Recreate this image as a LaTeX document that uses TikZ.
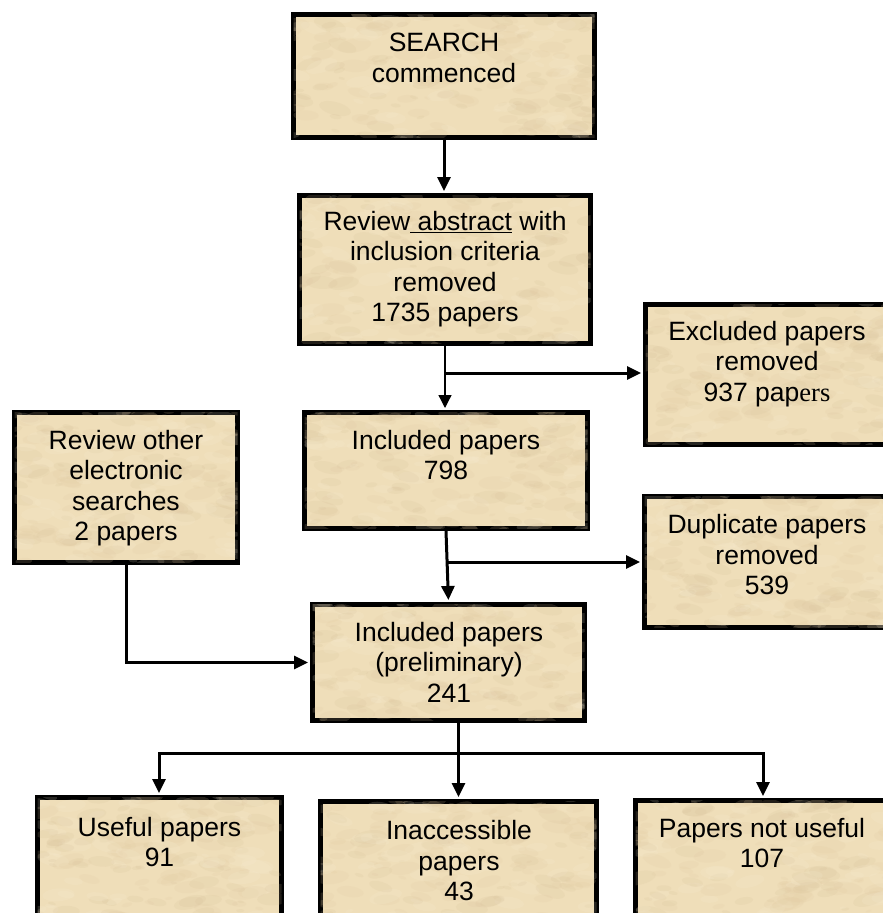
\documentclass[tikz,border=0pt]{standalone}
\usepackage{fontspec}
\setmainfont{Liberation Sans}
\newfontfamily\serifpart{Liberation Serif}
\usetikzlibrary{arrows.meta}

\definecolor{parchbase}{HTML}{EFDEB9}
\definecolor{parch0}{HTML}{F8EDD4}
\definecolor{parch1}{HTML}{E2CBA2}
\definecolor{parch2}{HTML}{D6BF99}

% soft mottled parchment texture laid over the fill of box #1
\newcommand\parchment[1]{%
  \begin{scope}
    \clip ([shift={(2.5pt,2.5pt)}]#1.south west) rectangle ([shift={(-2.5pt,-2.5pt)}]#1.north east);
    \pgfpointanchor{#1}{south west}\pgfgetlastxy{\mxa}{\mya}%
    \pgfpointanchor{#1}{north east}\pgfgetlastxy{\mxb}{\myb}%
    \foreach \k in {1,...,210}{%
      \pgfmathsetmacro\px{\mxa+rnd*(\mxb-\mxa)}%
      \pgfmathsetmacro\py{\mya+rnd*(\myb-\mya)}%
      \pgfmathsetmacro\rr{3+rnd*14}%
      \pgfmathsetmacro\ang{rnd*40-20}%
      \pgfmathtruncatemacro\cc{min(2,3*rnd)}%
      \fill[parch\cc, opacity=0.16, shift={(\px pt,\py pt)}, rotate=\ang]
        (0pt,0pt) ellipse[x radius=\rr pt, y radius=0.4*\rr pt];
    }%
  \end{scope}%
}

\begin{document}
\begin{tikzpicture}[x=1pt,y=-1pt,
  box/.style={draw=black, line width=5pt, fill=parchbase, rectangle,
    inner sep=0pt},
  txt/.style={align=center, inner sep=0pt,
    font=\fontsize{26.5}{30.5}\selectfont},
  arr/.style={line width=3pt, shorten >=2pt,
    -{Triangle[length=14pt,width=13pt]}},
  thinarr/.style={line width=1.3pt, shorten >=2pt,
    -{Triangle[length=13pt,width=13pt]}},
  link/.style={line width=3pt, line cap=rect}]
\pgfmathsetseed{4711}
\useasboundingbox (0,0) rectangle (883,913);

% boxes
\node[box, minimum width=301pt, minimum height=123pt] (search) at (444,76) {};
\node[box, minimum width=291pt, minimum height=148pt] (abstract) at (445,269.5) {};
\node[box, minimum width=257pt, minimum height=140pt] (excluded) at (774,374.5) {};
\node[box, minimum width=283pt, minimum height=116pt] (inc798) at (446,470.5) {};
\node[box, minimum width=223pt, minimum height=150pt] (other) at (126,487.5) {};
\node[box, minimum width=258pt, minimum height=131pt] (duplicate) at (773.5,562) {};
\node[box, minimum width=272pt, minimum height=116pt] (prelim) at (448.5,662.5) {};
\node[box, minimum width=244pt, minimum height=135pt] (useful) at (159.5,865) {};
\node[box, minimum width=276pt, minimum height=131pt] (inacc) at (458.5,867) {};
\node[box, minimum width=267pt, minimum height=132pt] (notuseful) at (769,866.5) {};

\foreach \b in {search,abstract,excluded,inc798,other,duplicate,prelim,useful,inacc,notuseful}
  {\parchment{\b}}

% texts
\node[txt] (searchT) at (444,58) {SEARCH\\commenced};
\node[txt] (abstractT) at (445,269) {Review\underline{\ abstract} with\\inclusion criteria\\removed\\1735 papers};
\node[txt] (excludedT) at (767,364) {Excluded papers\\removed\\937 pap{\serifpart ers}};
\node[txt] (inc798T) at (446,455) {Included papers\\798};
\node[txt] (otherT) at (126,488) {Review other\\electronic\\searches\\2 papers};
\node[txt] (duplicateT) at (767,555) {Duplicate papers\\removed\\539};
\node[txt] (prelimT) at (449,662) {Included papers\\(preliminary)\\241};
\node[txt] (usefulT) at (159.5,842) {Useful papers\\91};
\node[txt] (inaccT) at (459,861) {Inaccessible\\papers\\43};
\node[txt] (notusefulT) at (762,843) {Papers not useful\\107};

% connectors
\coordinate (b1) at (444,373);
\coordinate (b2) at (447.5,562);
\coordinate (barL) at (159,753);
\coordinate (barR) at (763,753);

\draw[arr] (search.south) -- (search.south |- abstract.north);
\draw[thinarr] (abstract.south) -- (abstract.south |- inc798.north);
\draw[arr] (b1) -- (b1 -| excluded.west);
\draw[arr] (inc798.south) -- (prelim.north);
\draw[arr] (b2) -- (b2 -| duplicate.west);
\draw[arr] (other.south) |- (prelim.west);
\draw[arr] (inacc.north |- prelim.south) -- (inacc.north);
\draw[link] (barL) -- (barR);
\draw[arr] (barL) -- (barL |- useful.north);
\draw[arr] (barR) -- (barR |- notuseful.north);
\end{tikzpicture}
\end{document}
